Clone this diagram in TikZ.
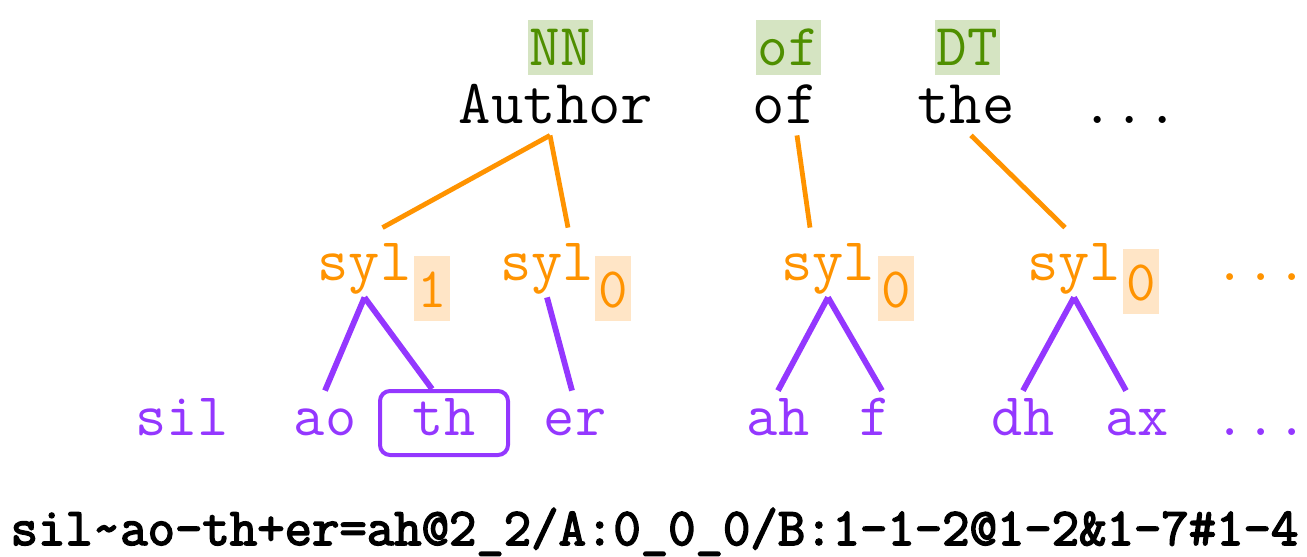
\documentclass[tikz,border=0pt]{standalone}
\usepackage{fontspec}
\newfontfamily\cour{Latin Modern Mono}
\newfontfamily\courbold{Latin Modern Mono}[FakeBold=3]
\definecolor{sylorange}{HTML}{FF9300}
\definecolor{subfill}{HTML}{FFE5C6}
\definecolor{phonepurple}{HTML}{9437FF}
\definecolor{taggreen}{HTML}{4F8F00}
\definecolor{tagfill}{HTML}{D5E4C2}
\begin{document}
\begin{tikzpicture}[x=0.5pt,y=-0.5pt]
        \tikzstyle{word}=[anchor=base,inner sep=0pt,text depth=6pt,font=\cour\fontsize{31.4}{34}\selectfont]
        \tikzstyle{tag}=[anchor=base,inner sep=0pt,fill=tagfill,text=taggreen,minimum width=32.5pt,text height=22.5pt,text depth=5pt,font=\cour\fontsize{29.7}{32}\selectfont]
        \tikzstyle{syl}=[anchor=base,inner sep=0pt,text=sylorange,text height=26pt,text depth=8.5pt,font=\cour\fontsize{30.3}{33}\selectfont]
        \tikzstyle{sub}=[anchor=base,inner sep=0pt,fill=subfill,text=sylorange,minimum width=18pt,text height=25.5pt,text depth=7pt,font=\cour\fontsize{28.6}{31}\selectfont]
        \tikzstyle{phone}=[anchor=base,inner sep=0pt,text=phonepurple,text height=22pt,font=\cour\fontsize{30.3}{33}\selectfont]
        \tikzstyle{synedge}=[draw=sylorange,line width=2.4pt]
        \tikzstyle{phedge}=[draw=phonepurple,line width=2.9pt]

        \useasboundingbox (0,0) rectangle (1307,557);

        \node [tag] (t1) at (560,65) {NN};
        \node [tag] (t2) at (788,65) {of};
        \node [tag] (t3) at (967,65) {DT};

        \node [word] (w1) at (556,123) {Author};
        \node [word] (w2) at (785,123) {of};
        \node [word] (w3) at (966,123) {the};
        \node [word] (w4) at (1130,123) {...};

        \node [syl] (s1) at (364.5,280) {syl};
        \node [sub] (s1sub) at (432,307) {1};
        \node [syl] (s2) at (547,280) {syl};
        \node [sub] (s2sub) at (613,307) {0};
        \node [syl] (s3) at (828,280) {syl};
        \node [sub] (s3sub) at (896,307) {0};
        \node [syl] (s4) at (1074,280) {syl};
        \node [sub] (s4sub) at (1141,300) {0};
        \node [syl] (s5) at (1261,280) {...};

        \node [phone] (p1) at (182,435) {sil};
        \node [phone] (p2) at (325,435) {ao};
        \node [phone,draw=phonepurple,line width=2pt,rounded corners=5pt,minimum width=64pt,text depth=10pt] (p3) at (444,435) {th};
        \node [phone] (p4) at (575,435) {er};
        \node [phone] (p5) at (778,435) {ah};
        \node [phone] (p6) at (875,435) {f};
        \node [phone] (p7) at (1023,435) {dh};
        \node [phone] (p8) at (1137,435) {ax};
        \node [phone] (p9) at (1261,435) {...};

        \path[synedge] ([xshift=-3pt]w1.south) edge ([xshift=9pt]s1.north)
                       ([xshift=-3pt]w1.south) edge ([xshift=10.5pt]s2.north)
                       ([xshift=6pt]w2.south) edge ([xshift=-9pt]s3.north)
                       ([xshift=2.5pt]w3.south) edge ([xshift=-4.5pt]s4.north);

        \path[phedge] (s1.south) edge (p2.north)
                      (s1.south) edge ([xshift=-6pt]p3.north)
                      (s2.south) edge ([xshift=-1.5pt]p4.north)
                      (s3.south) edge (p5.north)
                      (s3.south) edge ([xshift=3.5pt]p6.north)
                      (s4.south) edge (p7.north)
                      (s4.south) edge ([xshift=-5.5pt]p8.north);

        \node [anchor=base,inner sep=0pt,font=\courbold\fontsize{26.6}{29}\selectfont] (ctx) at (654.5,545)
          {sil\textasciitilde ao-th+er=ah@2\_2/A:0\_0\_0/B:1-1-2@1-2\&1-7\#1-4};
\end{tikzpicture}
\end{document}
